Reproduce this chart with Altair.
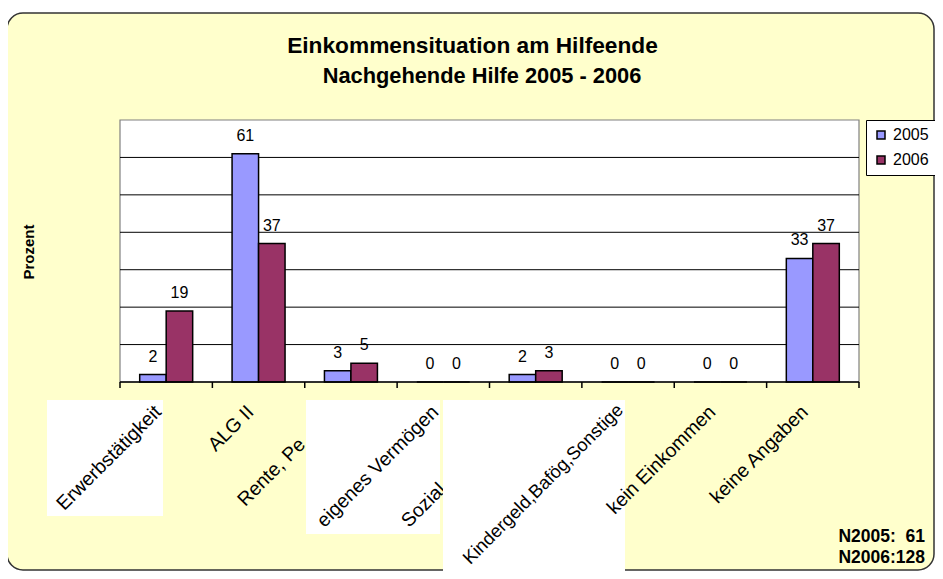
import altair as alt
import pandas as pd

# ---- data ----
categories = ["Erwerbstätigkeit", "ALG II", "Rente, Pe", "eigenes Vermögen", "Sozial",
              "Kindergeld,Bafög,Sonstige", "kein Einkommen", "keine Angaben"]
values_2005 = [2, 61, 3, 0, 2, 0, 0, 33]
values_2006 = [19, 37, 5, 0, 3, 0, 0, 37]
years = ["2005", "2006"]
grid_values = [10, 20, 30, 40, 50, 60]
colors = ["#9999FF", "#993366"]

title_text = "Einkommensituation am Hilfeende"
subtitle_text = "Nachgehende Hilfe 2005 - 2006"
y_title = "Prozent"
n_lines = ["N2005:\u00a0\u00a061", "N2006:128"]

rows = []
for c, a, b in zip(categories, values_2005, values_2006):
    rows.append({"cat": c, "year": "2005", "value": a})
    rows.append({"cat": c, "year": "2006", "value": b})
df = pd.DataFrame(rows)
cat_df = pd.DataFrame({"cat": categories})
grid_df = pd.DataFrame({"g": grid_values})

W, H = 739, 262
FONT = "Liberation Sans"

x_scale = alt.Scale(domain=categories, paddingInner=0, paddingOuter=0)
y_scale = alt.Scale(domain=[0, 70], nice=False, zero=True)
x_enc = alt.X("cat:N", scale=x_scale, axis=None)
xoff_enc = alt.XOffset("year:N", scale=alt.Scale(domain=years, paddingInner=0, paddingOuter=0.7435))
y_enc = alt.Y("value:Q", scale=y_scale, axis=None)

one = alt.Data(values=[{}])

card = alt.Chart(one).mark_rect(fill="#FFFFCC", stroke="#333333", strokeWidth=1.5, cornerRadius=16).encode(
    x=alt.value(-113), x2=alt.value(814), y=alt.value(-107), y2=alt.value(450))

plot_bg = alt.Chart(one).mark_rect(fill="white", stroke="#808080", strokeWidth=1.2).encode(
    x=alt.value(0), x2=alt.value(W), y=alt.value(0), y2=alt.value(H))

grid = alt.Chart(grid_df).mark_rule(color="#000000", strokeWidth=1).encode(
    y=alt.Y("g:Q", scale=y_scale, axis=None), x=alt.value(0), x2=alt.value(W))

bars = alt.Chart(df).mark_bar(stroke="black", strokeWidth=1.5).encode(
    x=x_enc, xOffset=xoff_enc, y=y_enc,
    color=alt.Color("year:N", scale=alt.Scale(domain=years, range=colors),
                    legend=alt.Legend(title=None, orient="none", legendX=746, legendY=0,
                                      fillColor="white", strokeColor="black", padding=7,
                                      symbolType="square", symbolSize=64, symbolStrokeColor="black",
                                      symbolStrokeWidth=1.5, symbolOpacity=1,
                                      labelFont=FONT, labelFontSize=16, labelColor="black",
                                      labelOffset=4, rowPadding=9)))

vlabels = alt.Chart(df).mark_text(font=FONT, fontSize=16, dy=-13, baseline="alphabetic",
                                  align="center", color="black").encode(
    x=x_enc, xOffset=xoff_enc, y=y_enc, text="value:Q")

axis_line = alt.Chart(one).mark_rule(color="black", strokeWidth=1.5).encode(
    x=alt.value(0), x2=alt.value(W), y=alt.value(H))
ticks = alt.Chart(cat_df).mark_rule(color="black", strokeWidth=1.5).encode(
    x=alt.X("cat:N", scale=x_scale, axis=None, bandPosition=0), y=alt.value(H), y2=alt.value(H + 6))
last_tick = alt.Chart(one).mark_rule(color="black", strokeWidth=1.5).encode(
    x=alt.value(W), y=alt.value(H), y2=alt.value(H + 6))


def box(x1, x2, y1, y2):
    return alt.Chart(one).mark_rect(fill="white").encode(
        x=alt.value(x1), x2=alt.value(x2), y=alt.value(y1), y2=alt.value(y2))


def labels(names, align, xoff, ypix, size=19.5):
    return alt.Chart(pd.DataFrame({"cat": names})).mark_text(
        font=FONT, fontSize=size, angle=315, align=align, baseline="middle",
        color="black", xOffset=xoff).encode(
        x=alt.X("cat:N", scale=x_scale, axis=None), y=alt.value(ypix), text="cat:N")


lab_layers = [
    box(-73, 43, 280, 396),
    labels([categories[0], categories[1]], "right", -8, 289),
    labels([categories[2]], "left", -110, 383),
    box(186, 320, 280, 414),
    labels([categories[3]], "right", -8, 289),
    labels([categories[4]], "left", -131, 404),
    box(323, 505, 280, 451),
    labels([categories[5]], "right", -8, 287, 18.4),
    labels(categories[6:], "right", -8, 289),
]

title = alt.Chart(one).mark_text(text=title_text, font=FONT, fontSize=22.7, fontWeight="bold",
                                 align="center", baseline="alphabetic", color="black").encode(
    x=alt.value(352.5), y=alt.value(-67))
subtitle = alt.Chart(one).mark_text(text=subtitle_text, font=FONT, fontSize=21.8, fontWeight="bold",
                                    align="center", baseline="alphabetic", color="black").encode(
    x=alt.value(362), y=alt.value(-37))
ytitle = alt.Chart(one).mark_text(text=y_title, font=FONT, fontSize=15, fontWeight="bold", angle=270,
                                  align="center", baseline="middle", color="black").encode(
    x=alt.value(-91), y=alt.value(132))
n1 = alt.Chart(one).mark_text(text=n_lines[0], font=FONT, fontSize=17.5, fontWeight="bold",
                              align="right", baseline="alphabetic", color="black").encode(
    x=alt.value(805), y=alt.value(422))
n2 = alt.Chart(one).mark_text(text=n_lines[1], font=FONT, fontSize=17.5, fontWeight="bold",
                              align="right", baseline="alphabetic", color="black").encode(
    x=alt.value(805), y=alt.value(443))

chart = alt.layer(card, plot_bg, grid, bars, vlabels, axis_line, ticks, last_tick,
                  *lab_layers, title, subtitle, ytitle, n1, n2).properties(
    width=W, height=H, autosize="none",
    padding={"left": 112, "top": 112, "right": 76, "bottom": 189},
    background="white",
).configure_view(stroke=None)

chart.save("out.html", embed_options={"renderer": "svg", "actions": False})
